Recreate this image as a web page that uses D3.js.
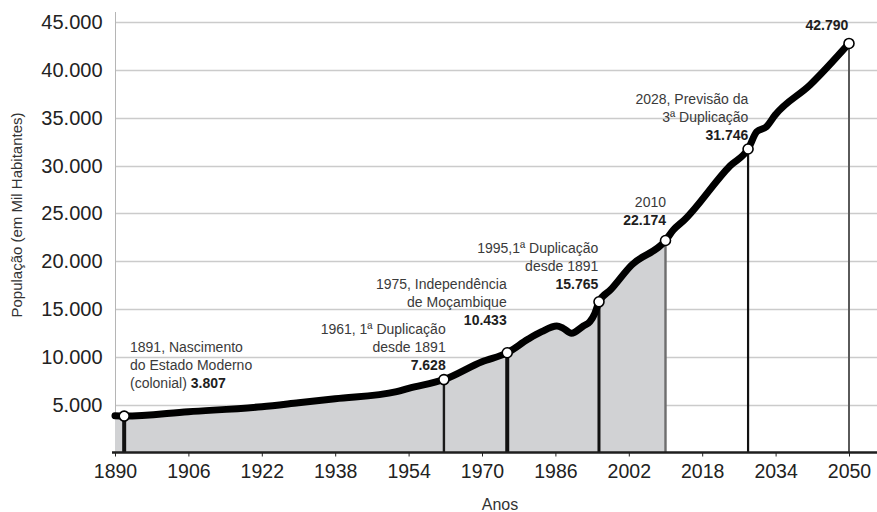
<!DOCTYPE html>
<html>
<head>
<meta charset="utf-8">
<script src="https://cdn.jsdelivr.net/npm/d3@7"></script>
<style>
  html, body { margin: 0; padding: 0; background: #fff; }
  svg { display: block; font-family: "Liberation Sans", Arial, sans-serif; }
  .grid line { stroke: #cbcbcb; stroke-width: 1.3; }
  .note { font-size: 14px; fill: #3a3a3a; }
  .note .num { font-weight: bold; fill: #1e1e1e; }
</style>
</head>
<body>
<div id="chart"></div>
<script>
// population curve (years, thousands of inhabitants)
const years = [1890, 1892, 1906, 1922, 1930, 1938, 1951.4, 1954, 1961.7, 1970, 1975.5, 1980, 1983,
               1986.3, 1987.7, 1989.5, 1992.1, 1993.5, 1994.6, 1995.5, 1998, 2002.6, 2010,
               2011.7, 2014.1, 2024.1, 2028, 2029.9, 2032, 2033.9, 2041.5, 2050];
const population = [3850, 3807, 4270, 4790, 5200, 5620, 6360, 6710, 7628, 9500, 10433, 11840, 12640,
                    13230, 12990, 12470, 13230, 13680, 14560, 15765, 17000, 19600, 22174,
                    23270, 24320, 30000, 31746, 33560, 34080, 35300, 38440, 42790];

// highlighted points
const markerYears = [1892, 1961.7, 1975.5, 1995.5, 2010, 2028, 2050];
const markerValues = [3807, 7628, 10433, 15765, 22174, 31746, 42790];
const markerNumbers = ["3.807", "7.628", "10.433", "15.765", "22.174", "31.746", "42.790"];
const markerTexts = [
  ["1891, Nascimento", "do Estado Moderno", "(colonial) "],
  ["1961, 1ª Duplicação", "desde 1891"],
  ["1975, Independência", "de Moçambique"],
  ["1995,1ª Duplicação", "desde 1891"],
  ["2010"],
  ["2028, Previsão da", "3ª Duplicação"],
  []
];

const xTicks = [1890, 1906, 1922, 1938, 1954, 1970, 1986, 2002, 2018, 2034, 2050];
const yTicks = [5000, 10000, 15000, 20000, 25000, 30000, 35000, 40000, 45000];
const areaEnd = 2010; // shaded area stops at last census

const width = 877, height = 512;
const margin = { top: 12, left: 115, right: 0, bottom: 59.5 };

const fmt = d3.formatLocale({ decimal: ",", thousands: ".", grouping: [3], currency: ["", ""] }).format(",");

const svg = d3.select("#chart").append("svg")
  .attr("width", width)
  .attr("height", height);

const x = d3.scaleLinear().domain([1890, 2050]).range([115, 849]);
const y = d3.scaleLinear().domain([0, 45000]).range([height - margin.bottom, 22.3]);

// grid
svg.append("g").attr("class", "grid")
  .selectAll("line").data(yTicks).enter().append("line")
  .attr("x1", margin.left).attr("x2", width)
  .attr("y1", d => Math.round(y(d)) + 0.5).attr("y2", d => Math.round(y(d)) + 0.5);

// y axis line
svg.append("line")
  .attr("x1", margin.left + 0.5).attr("x2", margin.left + 0.5)
  .attr("y1", margin.top).attr("y2", y(0))
  .attr("stroke", "#b5b5b5").attr("stroke-width", 1);

// shaded area until 2010
const pts = years.map((d, i) => ({ year: d, value: population[i] }));
const areaPts = pts.filter(d => d.year <= areaEnd);
svg.append("path")
  .datum(areaPts)
  .attr("fill", "#d1d2d4")
  .attr("d", d3.area().curve(d3.curveMonotoneX)
    .x(d => x(d.year)).y0(y(0)).y1(d => y(d.value)));

// vertical drop lines
const dropStyle = [
  { w: 4, c: "#111" }, { w: 2.4, c: "#1a1a1a" }, { w: 4, c: "#111" }, { w: 3, c: "#111" },
  { w: 2.4, c: "#6e6e6e" }, { w: 2.2, c: "#111" }, { w: 2, c: "#5a5a5a" }
];
svg.append("g").selectAll("line").data(markerYears).enter().append("line")
  .attr("x1", d => x(d)).attr("x2", d => x(d))
  .attr("y1", (d, i) => y(markerValues[i])).attr("y2", y(0))
  .attr("stroke", (d, i) => dropStyle[i].c)
  .attr("stroke-width", (d, i) => dropStyle[i].w);

// x axis
const xAxis = svg.append("g")
  .attr("transform", `translate(0,${y(0)})`)
  .call(d3.axisBottom(x).tickValues(xTicks).tickFormat(d3.format("d")).tickSize(4).tickPadding(8));
xAxis.select(".domain").remove();
xAxis.selectAll(".tick line").attr("stroke", "#222");
xAxis.selectAll("text")
  .style("font-size", "19.5px")
  .style("font-family", "'Liberation Sans', Arial, sans-serif")
  .attr("fill", "#222");
svg.append("line")
  .attr("x1", 112).attr("x2", width)
  .attr("y1", y(0)).attr("y2", y(0))
  .attr("stroke", "#1e1e1e").attr("stroke-width", 2.4);

// y axis labels
const yAxis = svg.append("g")
  .attr("transform", `translate(${margin.left},0)`)
  .call(d3.axisLeft(y).tickValues(yTicks).tickFormat(fmt).tickSize(0).tickPadding(12.5));
yAxis.select(".domain").remove();
yAxis.selectAll("text")
  .style("font-size", "20px")
  .style("font-family", "'Liberation Sans', Arial, sans-serif")
  .attr("fill", "#222");

// main line
svg.append("path")
  .datum(pts)
  .attr("fill", "none")
  .attr("stroke", "#000")
  .attr("stroke-width", 7)
  .attr("stroke-linecap", "round")
  .attr("stroke-linejoin", "round")
  .attr("d", d3.line().curve(d3.curveMonotoneX).x(d => x(d.year)).y(d => y(d.value)));

// markers
svg.append("g").selectAll("circle").data(markerYears).enter().append("circle")
  .attr("cx", d => x(d))
  .attr("cy", (d, i) => y(markerValues[i]))
  .attr("r", 5)
  .attr("fill", "#fff")
  .attr("stroke", "#000")
  .attr("stroke-width", 1.6);

// annotations
const notePos = [
  { x: 130, y: 351.7, anchor: "start", inline: true },
  { x: 445.7, y: 334.3, anchor: "end" },
  { x: 506.7, y: 289.3, anchor: "end" },
  { x: 598.3, y: 253.3, anchor: "end" },
  { x: 666, y: 206.7, anchor: "end" },
  { x: 748.3, y: 104.3, anchor: "end" },
  { x: 848.3, y: 30, anchor: "end" }
];
const lineGap = 18;
markerTexts.forEach((lines, i) => {
  const p = notePos[i];
  const t = svg.append("text").attr("class", "note")
    .attr("x", p.x).attr("y", p.y).attr("text-anchor", p.anchor);
  lines.forEach((s, j) => {
    t.append("tspan").attr("x", p.x).attr("y", p.y + j * lineGap).text(s);
  });
  if (p.inline) {
    t.append("tspan").attr("class", "num").text(markerNumbers[i]);
  } else {
    t.append("tspan").attr("class", "num")
      .attr("x", p.x).attr("y", p.y + lines.length * lineGap)
      .text(markerNumbers[i]);
  }
});

// axis titles
svg.append("text")
  .attr("x", 500).attr("y", 510)
  .attr("text-anchor", "middle")
  .style("font-size", "16px").attr("fill", "#333")
  .text("Anos");

svg.append("text")
  .attr("transform", "rotate(-90)")
  .attr("x", -215).attr("y", 22)
  .attr("text-anchor", "middle")
  .style("font-size", "15px").attr("fill", "#333")
  .text("População (em Mil Habitantes)");
</script>
</body>
</html>
